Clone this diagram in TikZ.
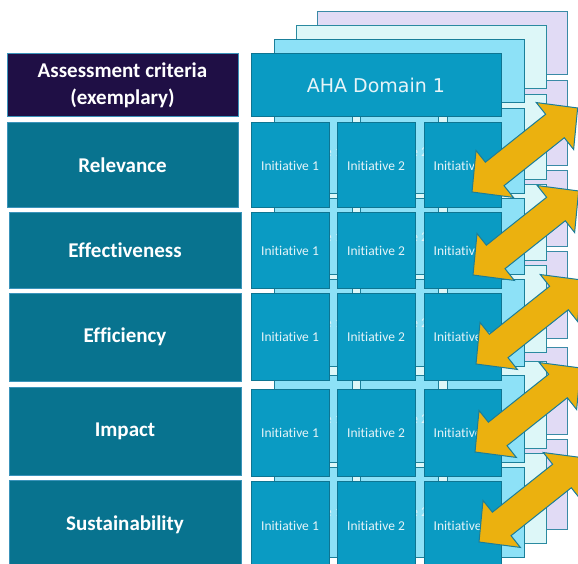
\documentclass[tikz,border=0pt]{standalone}
\usepackage{fontspec}
\setmainfont{Carlito}[Ligatures=NoCommon]
\newfontfamily\domfont{DejaVu Sans}
\definecolor{frontfill}{HTML}{0A9BC3}
\definecolor{frontline}{HTML}{0E7592}
\definecolor{lafill}{HTML}{8DE1F7}
\definecolor{laline}{HTML}{1A7F9A}
\definecolor{lbfill}{HTML}{DDF7F8}
\definecolor{lbline}{HTML}{2A8AA0}
\definecolor{lcfill}{HTML}{E1DBF5}
\definecolor{lcline}{HTML}{3A8AA6}
\definecolor{critfill}{HTML}{08738F}
\definecolor{critline}{HTML}{3A93BA}
\definecolor{headfill}{HTML}{1F0F45}
\definecolor{arrfill}{HTML}{EBB10F}
\definecolor{arrline}{HTML}{1A7D99}
\definecolor{celltext}{HTML}{E6F4F8}
\tikzset{
  cellbox/.style={draw=#1, line width=1pt, inner sep=0pt, outer sep=0pt, anchor=north west,
    text=celltext, font=\fontsize{13.5}{15}\selectfont, align=center},
  critbox/.style={draw=critline, fill=critfill, line width=1pt, inner sep=0pt, outer sep=0pt,
    anchor=north west, text=white, font=\fontsize{21}{27}\selectfont\bfseries, align=center},
  bigarrow/.style={draw=arrline, fill=arrfill, line width=1pt, line join=miter}
}
\def\rowspec{123/85,213/75,293/87,389/87,481/90}
\def\colspec{251/78,337/78,424/77}
\begin{document}
\begin{tikzpicture}[x=1pt,y=-1pt]
\useasboundingbox (0,0) rectangle (578,564);
\clip (0,0) rectangle (578,564);
% stacked layers, back to front
\foreach \l/\dx/\dy/\fc/\lc in {3/66/-42/lcfill/lcline, 2/45/-28/lbfill/lbline, 1/23/-14/lafill/laline, 0/0/0/frontfill/frontline} {
  \begin{scope}[shift={(\dx,\dy)}]
    \node[cellbox=\lc, fill=\fc, minimum width=250pt, minimum height=63pt, font=\domfont\fontsize{19}{22}\selectfont]
      (L\l h) at (251,54) {\ifnum\l=0 AHA Domain 1\fi};
    \foreach \ry/\rh [count=\r] in \rowspec {
      \foreach \cx/\cw [count=\c] in \colspec {
        \node[cellbox=\lc, fill=\fc, minimum width=\cw pt, minimum height=\rh pt]
          (L\l r\r c\c) at (\cx,\ry)
          {\ifnum\l=0 Initiative \c\else\ifnum\l=1 \ifnum\c<3 Initiative \c\fi\fi\fi};
      }
    }
  \end{scope}
}
% assessment criteria column
\node[critbox, fill=headfill, minimum width=231pt, minimum height=63pt] (crithead) at (7,54) {Assessment criteria\\(exemplary)};
\node[critbox, minimum width=231pt, minimum height=85pt] (relevance) at (7,123) {Relevance};
\node[critbox, minimum width=232pt, minimum height=75pt] (effectiveness) at (9,213) {Effectiveness};
\node[critbox, minimum width=232pt, minimum height=88pt] (efficiency) at (9,293) {Efficiency};
\node[critbox, minimum width=232pt, minimum height=88pt] (impact) at (9,387) {Impact};
\node[critbox, minimum width=232pt, minimum height=90pt] (sustainability) at (9,480) {Sustainability};
% double block arrows
\foreach \tx/\ty in {472/192, 473/275, 476/364, 475/452, 479/542} {
  \draw[bigarrow, shift={(\tx,\ty)}, rotate=38.5]
    (0,0) -- (29,30) -- (29,15) -- (106,15) -- (106,30) -- (135,0)
    -- (106,-30) -- (106,-15) -- (29,-15) -- (29,-30) -- cycle;
}
\end{tikzpicture}
\end{document}
